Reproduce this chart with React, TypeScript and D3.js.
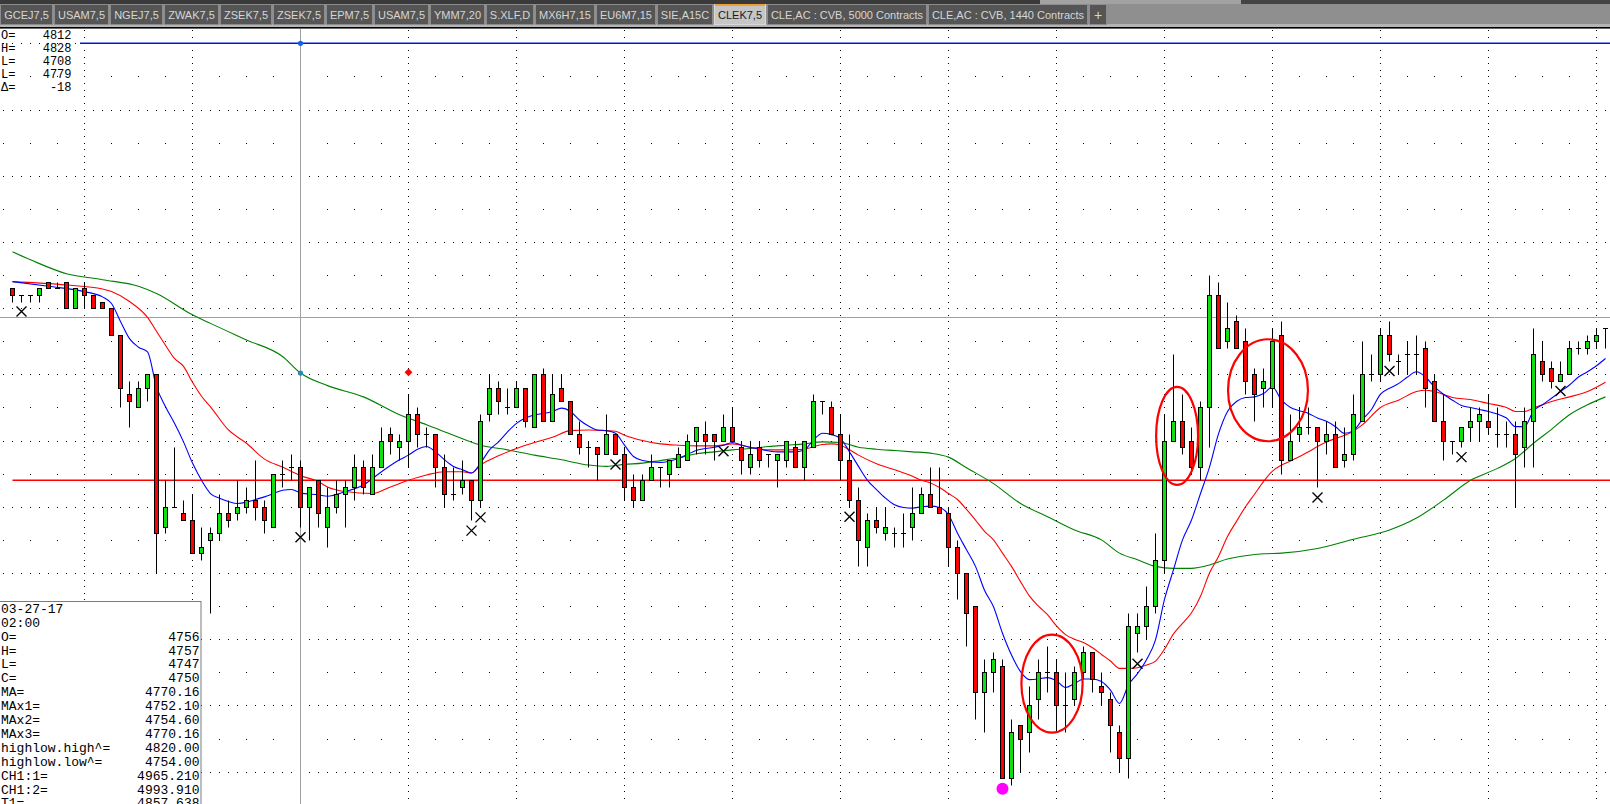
import * as d3 from "d3";
import { useMemo } from "react";

const W = 1610;
const H = 804;

// candle values, one per 5-minute bar
const opens = [
  4783, 4782, 4782, 4782, 4784, 4783, 4784, 4780, 4783, 4782, 4781, 4780, 4776, 4767, 4765, 4768, 4770, 4747, 4750, 4749,
  4748, 4743, 4745, 4746, 4749, 4749, 4750, 4751, 4750, 4747, 4755, 4756, 4756, 4750, 4754, 4747, 4750, 4752, 4753, 4756,
  4752, 4756, 4761, 4759, 4760, 4764, 4761, 4761, 4756, 4752, 4753, 4754, 4751, 4764, 4768, 4765, 4765, 4768, 4762, 4770,
  4763, 4768, 4766, 4761, 4759, 4759, 4758, 4761, 4758, 4753, 4751, 4754, 4756, 4755, 4756, 4757, 4760, 4761, 4761, 4760,
  4762, 4759, 4756, 4759, 4758, 4757, 4757, 4759, 4756, 4759, 4766, 4765, 4761, 4757, 4751, 4744, 4748, 4746, 4746, 4746,
  4747, 4749, 4752, 4750, 4749, 4744, 4740, 4735, 4722, 4725, 4726, 4709, 4717, 4716, 4721, 4725, 4725, 4720, 4721, 4725,
  4728, 4723, 4721, 4716, 4712, 4731, 4732, 4735, 4742, 4760, 4763, 4760, 4756, 4765, 4782, 4775, 4778, 4775, 4770, 4768,
  4768, 4776, 4757, 4761, 4762, 4762, 4760, 4761, 4757, 4758, 4763, 4770, 4770, 4776, 4772, 4773, 4773, 4774, 4769, 4763,
  4760, 4760, 4762, 4763, 4763, 4761, 4761, 4761, 4759, 4763, 4772, 4771, 4769, 4770, 4774, 4774, 4775, 4777,
];
const highs = [
  4783, 4782, 4782, 4783, 4784, 4784, 4784, 4783, 4784, 4782, 4781, 4780, 4776, 4769, 4769, 4770, 4770, 4754, 4759, 4751,
  4752, 4747, 4747, 4752, 4751, 4754, 4753, 4757, 4751, 4755, 4757, 4758, 4757, 4753, 4754, 4753, 4754, 4754, 4758, 4757,
  4758, 4762, 4762, 4761, 4767, 4765, 4762, 4761, 4758, 4756, 4757, 4754, 4764, 4770, 4769, 4768, 4769, 4768, 4770, 4771,
  4770, 4770, 4766, 4763, 4760, 4759, 4764, 4761, 4759, 4755, 4755, 4758, 4756, 4757, 4759, 4761, 4762, 4763, 4761, 4764,
  4765, 4760, 4760, 4760, 4758, 4758, 4760, 4760, 4760, 4767, 4766, 4766, 4764, 4761, 4753, 4749, 4750, 4750, 4747, 4749,
  4753, 4753, 4756, 4756, 4750, 4745, 4740, 4735, 4727, 4728, 4727, 4718, 4717, 4723, 4727, 4729, 4727, 4725, 4726, 4729,
  4728, 4725, 4722, 4717, 4734, 4734, 4738, 4746, 4764, 4773, 4767, 4762, 4766, 4785, 4784, 4781, 4779, 4777, 4771, 4771,
  4777, 4778, 4764, 4765, 4765, 4762, 4763, 4763, 4762, 4767, 4775, 4773, 4777, 4778, 4773, 4775, 4776, 4775, 4770, 4767,
  4760, 4762, 4765, 4765, 4767, 4765, 4763, 4763, 4765, 4777, 4775, 4772, 4772, 4775, 4775, 4776, 4777, 4777,
];
const lows = [
  4781, 4781, 4781, 4781, 4783, 4783, 4780, 4780, 4780, 4780, 4780, 4776, 4765, 4762, 4765, 4766, 4740, 4746, 4750, 4748,
  4743, 4742, 4734, 4745, 4747, 4748, 4749, 4748, 4746, 4747, 4753, 4754, 4747, 4745, 4747, 4744, 4749, 4747, 4751, 4752,
  4752, 4756, 4758, 4757, 4756, 4759, 4759, 4753, 4750, 4751, 4752, 4748, 4750, 4763, 4764, 4764, 4765, 4762, 4762, 4763,
  4763, 4766, 4761, 4758, 4756, 4754, 4758, 4758, 4751, 4750, 4751, 4754, 4753, 4753, 4756, 4757, 4758, 4758, 4757, 4760,
  4760, 4755, 4755, 4756, 4756, 4753, 4756, 4756, 4754, 4759, 4764, 4761, 4754, 4750, 4741, 4741, 4746, 4745, 4744, 4744,
  4745, 4749, 4750, 4749, 4741, 4736, 4729, 4718, 4716, 4722, 4709, 4708, 4710, 4713, 4718, 4722, 4716, 4716, 4720, 4724,
  4722, 4720, 4713, 4710, 4709, 4728, 4730, 4734, 4740, 4760, 4758, 4755, 4754, 4759, 4774, 4774, 4774, 4767, 4763, 4765,
  4765, 4755, 4757, 4760, 4761, 4753, 4758, 4756, 4756, 4757, 4763, 4769, 4769, 4772, 4770, 4770, 4770, 4765, 4763, 4757,
  4758, 4759, 4760, 4760, 4761, 4759, 4759, 4750, 4756, 4756, 4769, 4768, 4769, 4770, 4773, 4773, 4774, 4774,
];
const closes = [
  4782, 4782, 4782, 4783, 4783, 4783, 4780, 4783, 4782, 4780, 4780, 4776, 4768, 4766, 4768, 4770, 4746, 4750, 4750, 4748,
  4743, 4744, 4746, 4749, 4748, 4750, 4751, 4750, 4748, 4755, 4755, 4756, 4750, 4753, 4749, 4750, 4752, 4753, 4756, 4753,
  4756, 4760, 4760, 4760, 4764, 4761, 4761, 4756, 4752, 4752, 4754, 4751, 4763, 4768, 4766, 4765, 4768, 4763, 4770, 4763,
  4767, 4766, 4761, 4759, 4759, 4758, 4761, 4758, 4753, 4751, 4754, 4756, 4756, 4757, 4758, 4760, 4762, 4760, 4760, 4762,
  4760, 4757, 4758, 4757, 4758, 4758, 4760, 4756, 4760, 4766, 4766, 4761, 4757, 4751, 4745, 4748, 4747, 4747, 4746, 4746,
  4749, 4752, 4750, 4749, 4744, 4740, 4734, 4722, 4725, 4727, 4709, 4716, 4715, 4720, 4725, 4725, 4720, 4720, 4725, 4728,
  4724, 4722, 4717, 4712, 4732, 4732, 4735, 4742, 4760, 4763, 4759, 4756, 4765, 4782, 4774, 4777, 4774, 4769, 4767, 4769,
  4775, 4757, 4760, 4762, 4762, 4760, 4761, 4756, 4758, 4764, 4770, 4770, 4776, 4773, 4772, 4773, 4773, 4768, 4763, 4760,
  4760, 4762, 4763, 4764, 4762, 4761, 4761, 4758, 4763, 4773, 4770, 4769, 4770, 4774, 4774, 4775, 4776, 4777,
];

// moving averages as [bar, price]
const fastMA: [number, number][] = [
  [0, 4784], [4, 4783.3], [8, 4782.5], [10, 4781.7], [11, 4780.7], [12, 4778], [13, 4775.4], [14, 4774.1], [15, 4773.4],
  [16, 4768.1], [17, 4765.1], [18, 4762.6], [19, 4759.8], [20, 4756.6], [21, 4754], [22, 4752], [23, 4751.3], [24, 4750.8],
  [25, 4750.5], [26, 4750.7], [27, 4751.1], [28, 4751.5], [29, 4752], [30, 4752.5], [31, 4752.6], [32, 4752.1], [34, 4751.8],
  [35, 4751.6], [37, 4752.3], [39, 4753.3], [41, 4755.3], [43, 4757.1], [44, 4757.8], [45, 4758.7], [46, 4759.1], [47, 4758.3],
  [48, 4757.1], [49, 4756.1], [50, 4755.6], [51, 4755.1], [52, 4756.6], [53, 4758.6], [54, 4759.8], [55, 4761.3], [56, 4762.6],
  [57, 4763.4], [58, 4763.9], [59, 4764.1], [60, 4764.4], [61, 4764.9], [62, 4764.4], [63, 4763.1], [64, 4762.2], [65, 4761.6],
  [66, 4761.5], [67, 4761.1], [68, 4759.3], [69, 4757.6], [70, 4757], [72, 4756.7], [74, 4757.3], [76, 4758.5], [78, 4759],
  [79, 4759.3], [80, 4759.7], [81, 4759.3], [83, 4758.7], [85, 4758.3], [87, 4758.3], [88, 4758.6], [89, 4760.1], [90, 4761.1],
  [91, 4760.9], [92, 4760.3], [93, 4758.3], [94, 4756.1], [95, 4754], [96, 4752.6], [97, 4751.3], [98, 4750.3], [99, 4749.9],
  [100, 4749.8], [101, 4750], [102, 4750.1], [103, 4749.9], [104, 4748.8], [105, 4746], [106, 4743.5], [107, 4741],
  [108, 4737.4], [109, 4734.9], [110, 4730.9], [111, 4727.6], [112, 4725.1], [113, 4723.9], [114, 4724], [115, 4724.2],
  [116, 4723.7], [117, 4722.7], [118, 4723.3], [119, 4724], [120, 4724], [121, 4723.6], [122, 4722.3], [123, 4720.3],
  [124, 4723.1], [125, 4724.8], [126, 4726.9], [127, 4729.9], [128, 4736], [129, 4740.5], [130, 4745], [131, 4748],
  [132, 4752], [133, 4756], [134, 4761], [135, 4764.4], [136, 4765.9], [137, 4766.5], [138, 4766.6], [139, 4767.1],
  [140, 4768.1], [141, 4766.1], [142, 4765], [143, 4764.5], [144, 4764.1], [145, 4763.4], [146, 4762.9], [147, 4762.1],
  [148, 4761.1], [149, 4761.5], [150, 4763.2], [151, 4764.7], [152, 4767], [153, 4767.9], [154, 4768.6], [155, 4769.6],
  [156, 4770.4], [157, 4769.6], [158, 4768.1], [159, 4767], [160, 4766.1], [161, 4765.3], [162, 4765], [163, 4764.7],
  [164, 4764.4], [165, 4764], [166, 4763.4], [167, 4762.1], [168, 4762.1], [169, 4764.5], [170, 4765.4], [171, 4766.4],
  [172, 4767.4], [173, 4768.4], [174, 4769.6], [175, 4770.4], [176, 4771.3], [177, 4772.4],
];
const midMA: [number, number][] = [
  [0, 4784], [6, 4783.5], [10, 4782.9], [11, 4782.5], [13, 4781], [15, 4778.6], [16, 4776.5], [17, 4774.4], [18, 4772.4],
  [19, 4771.2], [20, 4768.8], [21, 4766.7], [22, 4765.1], [24, 4761.6], [26, 4759.6], [28, 4757.2], [30, 4756],
  [32, 4754.7], [34, 4753.8], [35, 4753], [37, 4752.3], [40, 4752], [42, 4753], [44, 4754], [46, 4754.8], [48, 4755.3],
  [50, 4755.3], [51, 4755.1], [52, 4756.3], [54, 4757.7], [56, 4758.8], [58, 4759.7], [60, 4760.5], [62, 4761.5],
  [64, 4761.6], [66, 4761.5], [67, 4761.4], [68, 4760.8], [70, 4760], [72, 4759.5], [74, 4759.3], [76, 4759.2],
  [78, 4759.2], [80, 4759.5], [82, 4759], [84, 4758.6], [86, 4758.6], [88, 4758.7], [89, 4759.1], [90, 4759.4],
  [91, 4759.5], [92, 4759.3], [93, 4758.6], [94, 4757.8], [96, 4756.5], [98, 4755.6], [100, 4754.6], [101, 4754],
  [102, 4753.6], [103, 4752.9], [104, 4752], [105, 4751.1], [106, 4749.6], [107, 4748], [108, 4746.3], [109, 4745],
  [110, 4743], [111, 4741], [112, 4738.7], [113, 4736.5], [114, 4735], [115, 4733.7], [116, 4732], [117, 4730.7],
  [118, 4730], [119, 4729.5], [120, 4728.7], [121, 4727.7], [122, 4726.7], [123, 4725.6], [124, 4725.6], [125, 4725.7],
  [126, 4726.1], [127, 4726.7], [128, 4728.5], [129, 4730.8], [130, 4732.4], [131, 4734], [132, 4736.5], [133, 4740],
  [134, 4742.5], [135, 4745.5], [136, 4747.8], [137, 4750], [138, 4751.9], [139, 4753.8], [140, 4755.4], [141, 4756.3],
  [142, 4756.9], [143, 4757.6], [144, 4758.3], [145, 4759.1], [146, 4759.8], [147, 4760.3], [148, 4760.8], [149, 4761.4],
  [150, 4762.4], [152, 4765], [154, 4766.1], [156, 4767.4], [157, 4767.6], [158, 4767.4], [160, 4766.5], [162, 4766.2],
  [164, 4765.6], [166, 4765], [167, 4764.4], [168, 4764.4], [169, 4764.9], [171, 4765.9], [173, 4766.6], [175, 4767.4],
  [177, 4768.8],
];
const slowMA: [number, number][] = [
  [0, 4788.5], [2, 4787.3], [6, 4785.2], [10, 4784.3], [14, 4783.3], [16, 4782.2], [20, 4779], [22, 4777.7], [26, 4775.2],
  [30, 4772.7], [32, 4770.2], [35, 4768.3], [39, 4766.6], [43, 4763.9], [46, 4762.4], [49, 4760.8], [52, 4759.3],
  [55, 4758.6], [58, 4757.8], [61, 4757.1], [64, 4756.3], [66, 4756.1], [68, 4756.4], [70, 4756.6], [72, 4757],
  [74, 4757.4], [76, 4758], [78, 4758.3], [80, 4758.6], [82, 4758.8], [84, 4759.1], [86, 4759.3], [88, 4759.5],
  [90, 4759.8], [92, 4759.7], [94, 4759], [96, 4758.7], [98, 4758.5], [100, 4758.3], [102, 4758.1], [104, 4757.5],
  [106, 4755.9], [109, 4753.5], [112, 4750.5], [115, 4748.5], [118, 4746.5], [121, 4745], [123, 4743], [125, 4742],
  [127, 4741], [129, 4740.7], [131, 4740.7], [133, 4741.2], [135, 4742.1], [137, 4742.6], [139, 4742.9], [141, 4743],
  [145, 4743.7], [149, 4745.1], [153, 4746.5], [156, 4748.3], [159, 4751], [162, 4754], [165, 4755.8], [167, 4757.3],
  [169, 4759.6], [171, 4761.7], [173, 4763.9], [175, 4765.4], [177, 4766.6],
];

// study markers
const crossMarks: [number, number][] = [
  [1, 4779.5], [32, 4745.4], [51, 4746.4], [52, 4748.4], [67, 4756.4], [79, 4758.4], [93, 4748.5], [125, 4726.3],
  [145, 4751.4], [153, 4770.5], [161, 4757.5], [172, 4767.5],
];
const diamondMark: [number, number] = [44, 4770.3];
const lowDot: [number, number] = [110, 4707.4];
// hand-drawn circles: bar, price, bar radius, price radius
const circleNotes: [number, number, number, number][] = [
  [115.5, 4723.3, 3.4, 7.4],
  [129.4, 4760.7, 2.33, 7.4],
  [139.5, 4767.6, 4.44, 7.7],
];

const cursorBar = 32;
const cursorPrice = 4778.7;
const cursorDots = [4820, 4770.2];
const highLevel = 4820;
const lowLevel = 4754;
const highLevelStart = 7.5;

const tabs = [
  "GCEJ7,5", "USAM7,5", "NGEJ7,5", "ZWAK7,5", "ZSEK7,5", "ZSEK7,5", "EPM7,5", "USAM7,5", "YMM7,20", "S.XLF,D",
  "MX6H7,15", "EU6M7,15", "SIE,A15C", "CLEK7,5", "CLE,AC : CVB, 5000 Contracts", "CLE,AC : CVB, 1440 Contracts", "+",
];
const activeTab = "CLEK7,5";

const topLabels = ["O=", "H=", "L=", "L=", "Δ="];
const topValues = ["4812", "4828", "4708", "4779", "-18"];

const barLabels = [
  "03-27-17", "02:00", "O=", "H=", "L=", "C=", "MA=", "MAx1=", "MAx2=", "MAx3=",
  "highlow.high^=", "highlow.low^=", "CH1:1=", "CH1:2=", "T1=",
];
const barValues = [
  "", "", "4756", "4757", "4747", "4750", "4770.16", "4752.10", "4754.60", "4770.16",
  "4820.00", "4754.00", "4965.210", "4993.910", "4857.638",
];

const UP = "#10e010";
const DOWN = "#ff0000";

export default function App() {
  const x = d3.scaleLinear().domain([0, 177]).range([12.5, 1605.5]);
  const y = d3.scaleLinear().domain([lowLevel, highLevel]).range([480.3, 43.3]);
  const py = (p: number) => Math.round(y(p)) + 0.5;

  const maLine = d3
    .line<[number, number]>()
    .x((d) => x(d[0]))
    .y((d) => y(d[1]))
    .curve(d3.curveMonotoneX);

  // tab geometry from measured label widths
  const tabBoxes = useMemo(() => {
    const ctx = document.createElement("canvas").getContext("2d")!;
    ctx.font = "11px 'Liberation Sans'";
    let cx = 0;
    return tabs.map((t) => {
      const w = Math.round(ctx.measureText(t).width) + (t === "+" ? 12 : 8);
      const box = { label: t, x0: cx, w };
      cx += w + 1;
      return box;
    });
  }, []);

  // dotted grid
  const [pMin, pMax] = [4704, 4824];
  const bars = d3.range(0, 178);
  const gridCols = bars.filter((i) => i % 12 === 8);
  const gridRows = d3.range(4705, 4825, 5);
  const dots: [number, number][] = [];
  gridCols.forEach((i) => {
    d3.range(pMin, pMax + 1).forEach((p) => dots.push([Math.round(x(i) - 0.5), Math.round(y(p))]));
  });
  gridRows.forEach((p) => {
    d3.range(-1, 179)
      .filter((i) => p % 10 === 0 || (i + 3) % 3 === 2)
      .forEach((i) => dots.push([Math.round(x(i) - 0.5), Math.round(y(p))]));
  });

  const monoTop = "'Liberation Mono', 'DejaVu Sans Mono', monospace";

  return (
    <svg
      width={W}
      height={H}
      style={{ position: "absolute", left: 0, top: 0, display: "block" }}
      fontFamily={monoTop}
    >
      <defs>
        <clipPath id="plot">
          <rect x={0} y={29} width={W} height={H - 29} />
        </clipPath>
      </defs>
      <rect width={W} height={H} fill="#ffffff" />

      <g clipPath="url(#plot)">
        {/* grid */}
        <g fill="#000">
          {dots.map((d, k) => (
            <rect key={k} x={d[0]} y={d[1]} width={1} height={1} />
          ))}
        </g>

        {/* cursor */}
        <line x1={x(cursorBar)} x2={x(cursorBar)} y1={29} y2={H} stroke="#a0a0a0" />
        <line x1={0} x2={W} y1={py(cursorPrice)} y2={py(cursorPrice)} stroke="#a0a0a0" />

        {/* levels */}
        <line x1={x(highLevelStart)} x2={W} y1={y(highLevel)} y2={y(highLevel)} stroke="#0018d0" strokeWidth={1.6} />
        <line x1={x(0)} x2={W} y1={y(lowLevel)} y2={y(lowLevel)} stroke="#ff0000" strokeWidth={1.6} />

        {/* moving averages */}
        <path d={maLine(slowMA) || ""} fill="none" stroke="#008000" strokeWidth={1.1} />
        <path d={maLine(midMA) || ""} fill="none" stroke="#ff0000" strokeWidth={1.1} />
        <path d={maLine(fastMA) || ""} fill="none" stroke="#0000ff" strokeWidth={1.1} />

        {/* candles */}
        <g>
          {bars.map((i) => {
            const cx = x(i);
            const o = opens[i];
            const c = closes[i];
            const top = py(Math.max(o, c));
            const bot = py(Math.min(o, c));
            return (
              <g key={i}>
                <line x1={cx} x2={cx} y1={py(highs[i])} y2={py(lows[i])} stroke="#000" strokeWidth={1} />
                {o === c ? (
                  <line x1={cx - 2.5} x2={cx + 2.5} y1={top} y2={top} stroke="#000" strokeWidth={1} />
                ) : (
                  <rect
                    x={cx - 2}
                    y={top}
                    width={4}
                    height={bot - top}
                    fill={c > o ? UP : DOWN}
                    stroke="#000"
                    strokeWidth={1}
                  />
                )}
              </g>
            );
          })}
        </g>

        {/* cursor dots */}
        {cursorDots.map((p, k) => (
          <circle key={k} cx={x(cursorBar)} cy={y(p)} r={2.6} fill={k === 0 ? "#1060ff" : "#2a88b8"} />
        ))}

        {/* markers */}
        <g stroke="#000" strokeWidth={1.4}>
          {crossMarks.map(([i, p], k) => (
            <path
              key={k}
              d={`M${x(i) - 5},${y(p) - 5}L${x(i) + 5},${y(p) + 5}M${x(i) - 5},${y(p) + 5}L${x(i) + 5},${y(p) - 5}`}
            />
          ))}
        </g>
        <path
          d={d3.symbol(d3.symbolDiamond2, 40)() || ""}
          transform={`translate(${x(diamondMark[0])},${y(diamondMark[1])})`}
          fill="#ff0000"
        />
        <circle cx={x(lowDot[0])} cy={y(lowDot[1])} r={6} fill="#ff00ff" />

        {/* annotation circles */}
        {circleNotes.map(([i, p, ri, rp], k) => (
          <ellipse
            key={k}
            cx={x(i)}
            cy={y(p)}
            rx={x(i + ri) - x(i)}
            ry={y(p - rp) - y(p)}
            fill="none"
            stroke="#ff0000"
            strokeWidth={2.2}
          />
        ))}
      </g>

      {/* top-left readout */}
      <g fontSize={12} fill="#000">
        {topLabels.map((t, k) => (
          <g key={k}>
            <text x={1} y={38.6 + k * 13.2}>{t}</text>
            <text x={71.5} y={38.6 + k * 13.2} textAnchor="end">{topValues[k]}</text>
          </g>
        ))}
      </g>

      {/* bar readout box */}
      <rect x={-1} y={601.5} width={202} height={210} fill="#fff" stroke="#7a7a7a" />
      <g fontSize={13} fill="#000">
        {barLabels.map((t, k) => (
          <g key={k}>
            <text x={1} y={612.8 + k * 13.9}>{t}</text>
            <text x={199.5} y={612.8 + k * 13.9} textAnchor="end">{barValues[k]}</text>
          </g>
        ))}
      </g>

      {/* tab strip */}
      <rect x={0} y={0} width={W} height={27} fill="#8f8f8f" />
      <rect x={0} y={0} width={1040} height={4} fill="#3a3a3a" />
      <rect x={1040} y={0} width={201} height={4} fill="#a2a2a2" />
      <rect x={1241} y={0} width={W - 1241} height={4} fill="#444444" />
      <rect x={0} y={24} width={W} height={3} fill="#b4b4b4" />
      <rect x={0} y={27} width={W} height={1.6} fill="#000" />
      <g fontFamily="'Liberation Sans', Arial, sans-serif" fontSize={11}>
        {tabBoxes.map((b, k) => {
          const active = b.label === activeTab;
          return (
            <g key={k}>
              <rect
                x={b.x0 + 0.5}
                y={4.5}
                width={b.w - 1}
                height={20}
                fill={active ? "#c6c6c6" : "#555555"}
                stroke={active ? "#d8d8d8" : "#8c8c8c"}
              />
              {active && <rect x={b.x0 + 1} y={4} width={b.w - 2} height={2} fill="#f0a030" />}
              <text
                x={b.x0 + b.w / 2}
                y={b.label === "+" ? 20 : 19}
                textAnchor="middle"
                fill={active ? "#1a1a1a" : "#d6d6d6"}
                fontSize={b.label === "+" ? 14 : 11}
              >
                {b.label}
              </text>
            </g>
          );
        })}
      </g>
    </svg>
  );
}
